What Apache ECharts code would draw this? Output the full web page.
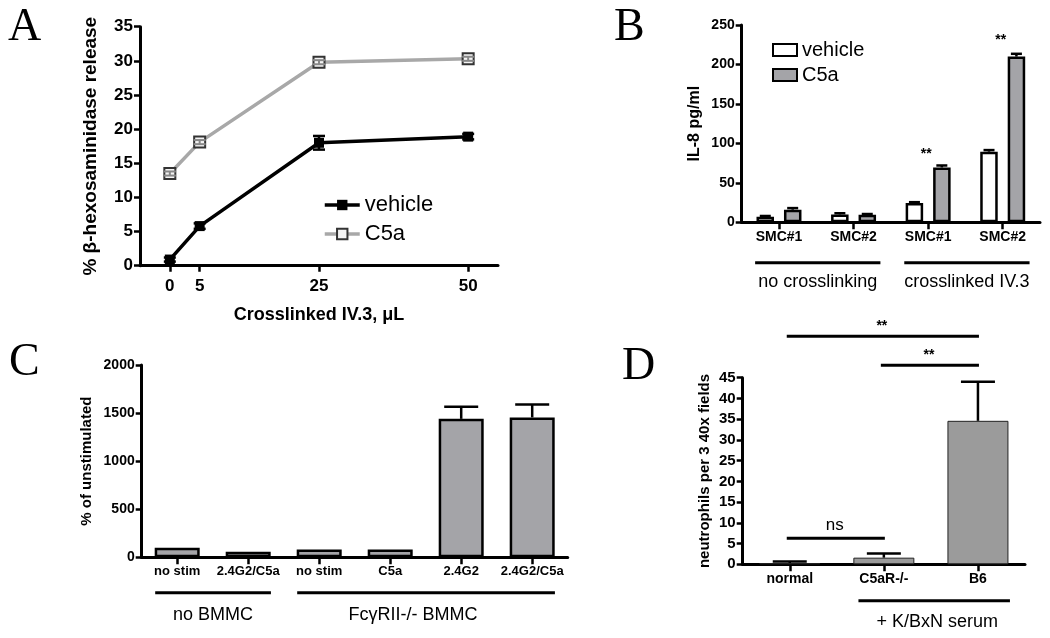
<!DOCTYPE html>
<html><head><meta charset="utf-8">
<script src="https://cdn.jsdelivr.net/npm/echarts@6/dist/echarts.min.js"></script>
<style>html,body{margin:0;padding:0;background:#fff}#c{width:1050px;height:638px}</style>
</head><body><div id="c"></div>
<script>
// ---------- Panel A ----------
const doseA = [0, 5, 25, 50];
const doseTicksA = [0, 5, 25, 50];
const vehicleA = [0.9, 5.8, 18.0, 18.9];
const vehicleErrA = [0.3, 0.4, 1.0, 0.4];
const c5aA = [13.5, 18.1, 29.8, 30.3];
const c5aErrA = [0.3, 0.3, 0.3, 0.3];
// ---------- Panel B ----------
const catsB = ['SMC#1', 'SMC#2', 'SMC#1', 'SMC#2'];
const vehicleB = [7, 10, 24.5, 89.5];
const vehicleErrB = [1, 1.5, 1, 2];
const c5aB = [16, 9.5, 69.5, 210];
const c5aErrB = [2, 1, 2.5, 3.5];
const groupSpansB = [[0, 1], [2, 3]];
const groupLabelsB = ['no crosslinking', 'crosslinked IV.3'];
const starsB = [[2, 86], [3, 231]];
// ---------- Panel C ----------
const catsC = ['no stim', '2.4G2/C5a', 'no stim', 'C5a', '2.4G2', '2.4G2/C5a'];
const valsC = [100, 58, 80, 82, 1440, 1455];
const errC = [0, 0, 0, 0, 125, 135];
const groupSpansC = [[0, 1], [2, 5]];
const groupLabelsC = ['no BMMC', 'Fc\u03B3RII-/- BMMC'];
// ---------- Panel D ----------
const catsD = ['normal', 'C5aR-/-', 'B6'];
const valsD = [0.3, 1.6, 34.6];
const errD = [0.4, 1.0, 9.4];
const groupSpansD = [[1, 2]];
const groupLabelsD = ['+ K/BxN serum'];
const sigD = [[0, 55, 2], [1, 48, 2], [0, 6.3, 1]];
const sigTextD = ['**', '**', 'ns'];

const F = '"Liberation Sans", Arial, sans-serif';
const SERIF = '"Liberation Serif", "Times New Roman", serif';

function yAx(gi, max, interval, name, nameSize, nameGap, labelSize) {
  return {
    type: 'value', gridIndex: gi, min: 0, max: max, interval: interval,
    name: name, nameLocation: 'middle', nameGap: nameGap,
    nameTextStyle: {fontFamily: F, fontWeight: 'bold', fontSize: nameSize, color: '#000'},
    axisLine: {show: true, onZero: false, lineStyle: {color: '#000', width: 3}},
    axisTick: {show: true, length: 6, lineStyle: {color: '#000', width: 2.5}},
    axisLabel: {fontFamily: F, fontWeight: 'bold', fontSize: labelSize, color: '#000', margin: 7,
      formatter: function (v) { return String(v); }},
    splitLine: {show: false}
  };
}
function xCat(gi, cats, labelSize) {
  return {
    type: 'category', gridIndex: gi, data: cats,
    axisLine: {show: true, onZero: false, lineStyle: {color: '#000', width: 3}},
    axisTick: {show: true, alignWithLabel: true, length: 7, lineStyle: {color: '#000', width: 2.5}},
    axisLabel: {fontFamily: F, fontWeight: 'bold', fontSize: labelSize, color: '#000', margin: 8, interval: 0},
    splitLine: {show: false}
  };
}
function errSeries(xi, xs, vals, errs, opt) {
  return {
    type: 'custom', xAxisIndex: xi, yAxisIndex: xi, silent: true, z: 5, clip: false,
    encode: {x: 0, y: 1},
    data: xs.map((x, i) => [x, vals[i], errs[i]]),
    renderItem: function (params, api) {
      const x = api.value(0), v = api.value(1), e = api.value(2);
      if (!e) return null;
      const p = api.coord([x, v]);
      const pt = api.coord([x, v + e]);
      const pb = opt.both ? api.coord([x, v - e]) : p;
      const cx = p[0] + (opt.dx || 0);
      const hw = opt.cap / 2;
      const st = {stroke: opt.color || '#000', lineWidth: opt.lw || 2.5};
      const ch = [
        {type: 'line', shape: {x1: cx, y1: pb[1], x2: cx, y2: pt[1]}, style: st},
        {type: 'line', shape: {x1: cx - hw, y1: pt[1], x2: cx + hw, y2: pt[1]}, style: st}
      ];
      if (opt.both) ch.push({type: 'line', shape: {x1: cx - hw, y1: pb[1], x2: cx + hw, y2: pb[1]}, style: st});
      return {type: 'group', children: ch};
    }
  };
}
function bracketSeries(xi, spans, labels, opt) {
  return {
    type: 'custom', xAxisIndex: xi, yAxisIndex: xi, silent: true, clip: false,
    encode: {x: 0, y: 1},
    data: spans.map(s => [s[0], 0, s[1]]),
    renderItem: function (params, api) {
      const p0 = api.coord([api.value(0), 0]);
      const p1 = api.coord([api.value(2), 0]);
      const band = api.size([1, 0])[0];
      const x0 = p0[0] - band * opt.l, x1 = p1[0] + band * opt.r;
      const y = p0[1] + opt.lineDy;
      const dx = opt.dx ? opt.dx[params.dataIndex] : 0;
      return {type: 'group', children: [
        {type: 'line', shape: {x1: x0, y1: y, x2: x1, y2: y}, style: {stroke: '#000', lineWidth: 3}},
        {type: 'text', style: {x: (x0 + x1) / 2 + dx, y: p0[1] + opt.textDy, text: labels[params.dataIndex],
          fill: '#000', font: opt.fontSize + 'px ' + F, align: 'center', verticalAlign: 'middle'}}
      ]};
    }
  };
}

const chart = echarts.init(document.getElementById('c'), null, {renderer: 'canvas'});
const option = {
  animation: false,
  backgroundColor: '#fff',
  grid: [
    {left: 140, top: 26.7, width: 358, height: 239},
    {left: 741.7, top: 25, width: 298.3, height: 197.3},
    {left: 141.7, top: 365, width: 426, height: 192.3},
    {left: 742.7, top: 377.7, width: 282.3, height: 186.6}
  ],
  xAxis: [
    {
      type: 'value', gridIndex: 0, min: -5, max: 55,
      name: 'Crosslinked IV.3, \u03BCL', nameLocation: 'middle', nameGap: 40,
      nameTextStyle: {fontFamily: F, fontWeight: 'bold', fontSize: 18, color: '#000'},
      axisLine: {show: true, onZero: false, lineStyle: {color: '#000', width: 3}},
      axisTick: {show: true, length: 6, customValues: doseTicksA, lineStyle: {color: '#000', width: 2.5}},
      axisLabel: {fontFamily: F, fontWeight: 'bold', fontSize: 17, color: '#000', margin: 12, customValues: doseTicksA},
      splitLine: {show: false}
    },
    xCat(1, catsB, 14),
    xCat(2, catsC, 13),
    xCat(3, catsD, 14)
  ],
  yAxis: [
    yAx(0, 35, 5, '% \u03B2-hexosaminidase release', 19, 40, 17),
    yAx(1, 250, 50, 'IL-8 pg/ml', 16, 39, 14),
    yAx(2, 2000, 500, '% of unstimulated', 15, 47, 14),
    yAx(3, 45, 5, 'neutrophils per 3 40x fields', 15, 30, 15)
  ],
  legend: [
    {
      orient: 'vertical', left: 323, top: 194, padding: 0, itemGap: 7,
      itemWidth: 35, itemHeight: 13, selectedMode: false,
      lineStyle: {width: 3.5},
      data: ['vehicle', 'C5a'],
      textStyle: {fontFamily: F, fontSize: 22, color: '#000'}
    },
    {
      orient: 'vertical', left: 772, top: 40, padding: 0, itemGap: 5,
      itemWidth: 24, itemHeight: 12, selectedMode: false, icon: 'rect',
      data: ['vehicle ', 'C5a '],
      textStyle: {fontFamily: F, fontSize: 20, color: '#000'}
    }
  ],
  graphic: [
    {type: 'text', x: 8, y: 28, style: {text: 'A', font: '46px ' + SERIF, fill: '#000', verticalAlign: 'middle'}},
    {type: 'text', x: 614, y: 28, style: {text: 'B', font: '46px ' + SERIF, fill: '#000', verticalAlign: 'middle'}},
    {type: 'text', x: 9, y: 363, style: {text: 'C', font: '46px ' + SERIF, fill: '#000', verticalAlign: 'middle'}},
    {type: 'text', x: 622, y: 367, style: {text: 'D', font: '46px ' + SERIF, fill: '#000', verticalAlign: 'middle'}}
  ],
  series: [
    // A
    errSeries(0, doseA, vehicleA, vehicleErrA, {both: true, cap: 12, color: '#000', lw: 2.5}),
    errSeries(0, doseA, c5aA, c5aErrA, {both: true, cap: 12, color: '#888', lw: 2}),
    {
      type: 'line', name: 'vehicle', xAxisIndex: 0, yAxisIndex: 0, silent: true, z: 4,
      data: doseA.map((d, i) => [d, vehicleA[i]]),
      symbol: 'rect', symbolSize: 10,
      lineStyle: {color: '#000', width: 3.5}, itemStyle: {color: '#000'}
    },
    {
      type: 'line', name: 'C5a', xAxisIndex: 0, yAxisIndex: 0, silent: true, z: 4,
      data: doseA.map((d, i) => [d, c5aA[i]]),
      symbol: 'rect', symbolSize: 11,
      lineStyle: {color: '#a8a8a8', width: 3.5}, itemStyle: {color: '#f4f4f4', borderColor: '#333', borderWidth: 2}
    },
    // B
    {
      type: 'bar', name: 'vehicle ', xAxisIndex: 1, yAxisIndex: 1, silent: true,
      data: vehicleB, barWidth: 17.5, barGap: '57%',
      itemStyle: {color: '#fff', borderColor: '#000', borderWidth: 2.5}
    },
    {
      type: 'bar', name: 'C5a ', xAxisIndex: 1, yAxisIndex: 1, silent: true,
      data: c5aB, barWidth: 17.5, barGap: '57%',
      itemStyle: {color: '#a4a4a8', borderColor: '#000', borderWidth: 2.5}
    },
    errSeries(1, [0, 1, 2, 3], vehicleB, vehicleErrB, {dx: -13.7, cap: 11, lw: 2.5}),
    errSeries(1, [0, 1, 2, 3], c5aB, c5aErrB, {dx: 13.7, cap: 11, lw: 2.5}),
    bracketSeries(1, groupSpansB, groupLabelsB, {l: 0.32, r: 0.36, lineDy: 40.5, textDy: 60, fontSize: 18}),
    {
      type: 'custom', xAxisIndex: 1, yAxisIndex: 1, silent: true, clip: false,
      encode: {x: 0, y: 1}, data: starsB,
      renderItem: function (params, api) {
        const p = api.coord([api.value(0), api.value(1)]);
        return {type: 'text', style: {x: p[0] - 2, y: p[1], text: '**', fill: '#000',
          font: 'bold 14px ' + F, align: 'center', verticalAlign: 'middle'}};
      }
    },
    // C
    {
      type: 'bar', name: 'C', xAxisIndex: 2, yAxisIndex: 2, silent: true,
      data: valsC, barWidth: 45,
      itemStyle: {color: '#a4a4a8', borderColor: '#000', borderWidth: 2.5}
    },
    errSeries(2, [0, 1, 2, 3, 4, 5], valsC, errC, {cap: 34, lw: 2.5}),
    bracketSeries(2, groupSpansC, groupLabelsC, {l: 0.31, r: 0.32, lineDy: 35.5, textDy: 58, fontSize: 18, dx: [0, -13]}),
    // D
    {
      type: 'bar', name: 'D', xAxisIndex: 3, yAxisIndex: 3, silent: true,
      data: valsD, barWidth: 61,
      itemStyle: {color: '#9b9b9b', borderColor: '#222', borderWidth: 1}
    },
    errSeries(3, [0, 1, 2], valsD, errD, {cap: 34, lw: 2.5}),
    bracketSeries(3, groupSpansD, groupLabelsD, {l: 0.27, r: 0.34, lineDy: 36.5, textDy: 57.5, fontSize: 18, dx: [3]}),
    {
      type: 'custom', xAxisIndex: 3, yAxisIndex: 3, silent: true, clip: false,
      encode: {x: 0, y: 1}, data: sigD,
      renderItem: function (params, api) {
        const p0 = api.coord([api.value(0), api.value(1)]);
        const p1 = api.coord([api.value(2), api.value(1)]);
        const t = sigTextD[params.dataIndex];
        const isNs = t === 'ns';
        return {type: 'group', children: [
          {type: 'line', shape: {x1: p0[0] - 3, y1: p0[1], x2: p1[0] + 1, y2: p0[1]}, style: {stroke: '#000', lineWidth: 3}},
          {type: 'text', style: {x: (p0[0] + p1[0]) / 2 - 2, y: p0[1] - (isNs ? 13 : 10), text: t, fill: '#000',
            font: (isNs ? '17px ' : 'bold 14px ') + F, align: 'center', verticalAlign: 'middle'}}
        ]};
      }
    }
  ]
};
chart.setOption(option);
</script>
</body></html>
